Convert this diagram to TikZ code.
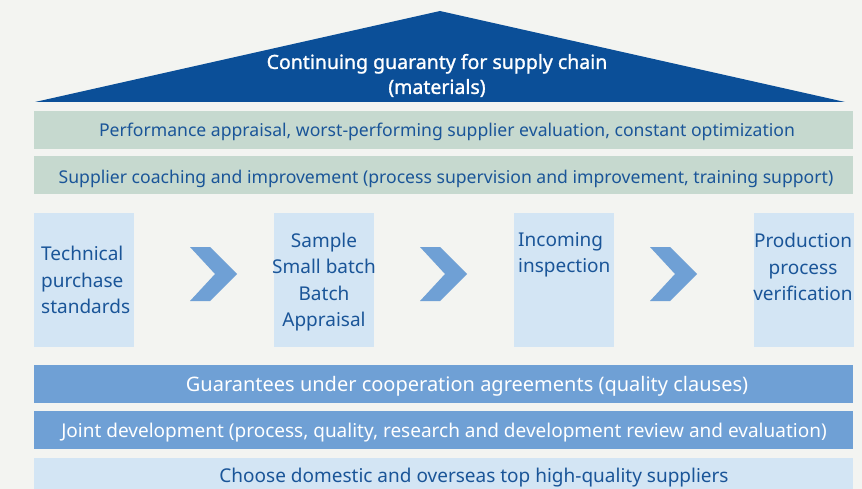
\documentclass[tikz,border=0pt]{standalone}
\usepackage{fontspec}
\setmainfont{Noto Sans}
\newfontfamily\bandfont{Noto Sans}
\newfontfamily\rooffont[FakeBold=1.2]{Noto Sans}
\usetikzlibrary{positioning}
\definecolor{paper}{HTML}{F3F4F1}
\definecolor{roof}{HTML}{0B4F98}
\definecolor{sage}{HTML}{C6D9CF}
\definecolor{ink}{HTML}{1A5598}
\definecolor{pale}{HTML}{D3E5F4}
\definecolor{midblue}{HTML}{6FA0D5}

\begin{document}
\begin{tikzpicture}[x=1pt,y=-1pt,
  bandtext/.style={font=\bandfont\fontsize{17.6}{19}\selectfont, inner sep=0pt},
  lowtext/.style={font=\bandfont\fontsize{19}{21}\selectfont, inner sep=0pt},
  boxtext/.style={font=\fontsize{19}{26.5}\selectfont, text=ink, inner sep=0pt}]
\useasboundingbox (0,0) rectangle (862,489);
\fill[paper] (0,0) rectangle (862,489);
% roof
\fill[roof] (35,102) -- (440,11) -- (845,102) -- cycle;
\node[font=\rooffont\fontsize{19.5}{25}\selectfont, text=white, align=center, inner sep=0pt] (roofline) at (437,75.5) {Continuing guaranty for supply chain\\(materials)};
%
\fill[sage] (34,111) rectangle (853,149);
\node[bandtext, text=ink] (appraisal) at (447,132) {Performance appraisal, worst-performing supplier evaluation, constant optimization};
%
\fill[sage] (34,156) rectangle (853,194);
\node[bandtext, text=ink] (coaching) at (446,179) {Supplier coaching and improvement (process supervision and improvement, training support)};
% process boxes
\fill[pale] (34,213) rectangle (134,347);
\node[boxtext, align=left, anchor=west] (standards) at (41,280) {Technical\\purchase\\standards};
%
\fill[pale] (274,213) rectangle (374,347);
\node[boxtext, align=center] (sample) at (324,282) {Sample\\Small batch\\Batch\\Appraisal};
%
\fill[pale] (514,213) rectangle (614,347);
\node[boxtext, align=left, anchor=west] (incoming) at (518,255) {Incoming\\inspection};
%
\fill[pale] (754,213) rectangle (854,347);
\node[boxtext, align=center] (production) at (803,267) {Production\\process\\verification};
% chevrons
\foreach \dx in {0,230,460}
  \fill[midblue, shift={(\dx,0)}] (190,247) -- (210,247) -- (237,274) -- (210,301) -- (190,301) -- (215,274) -- cycle;
%
\fill[midblue] (34,365) rectangle (853,403);
\node[lowtext, font=\bandfont\fontsize{20}{22}\selectfont, text=white] (agreements) at (467,386) {Guarantees under cooperation agreements (quality clauses)};
%
\fill[midblue] (34,411) rectangle (853,449);
\node[lowtext, text=white] (joint) at (444,432.5) {Joint development (process, quality, research and development review and evaluation)};
%
\fill[pale] (34,458) rectangle (853,489);
\node[lowtext, text=ink] (suppliers) at (474,478) {Choose domestic and overseas top high-quality suppliers};
\end{tikzpicture}
\end{document}
